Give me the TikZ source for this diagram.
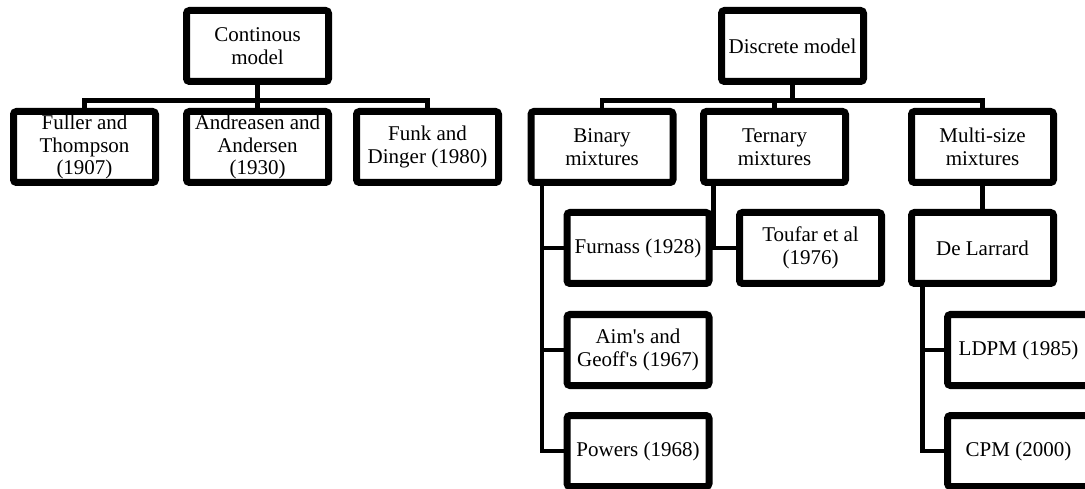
\documentclass[tikz,border=0pt]{standalone}
\usepackage{fontspec}
\setmainfont{Liberation Serif}[Ligatures=TeXOff]
\usetikzlibrary{shadows}

\begin{document}
\begin{tikzpicture}[x=1pt,y=-1pt,
  box/.style={draw,fill=white,line width=7pt,rounded corners=3pt,
    minimum width=142pt,minimum height=71pt,inner sep=0pt,align=center,
    font=\fontsize{21}{22.5}\selectfont,
    drop shadow={shadow xshift=2pt,shadow yshift=-3pt,opacity=.35}},
  link/.style={line width=4.5pt}]
\clip (0,0) rectangle (1085,489);
% continuous model
\node[box] (cont) at (257.5,46) {Continous\\model};
\node[box] (fuller) at (84.5,147) {Fuller and\\Thompson\\(1907)};
\node[box] (andr) at (257.5,147) {Andreasen and\\Andersen\\(1930)};
\node[box] (funk) at (427.5,147) {Funk and\\Dinger (1980)};
\draw[link] (cont.south) -- ++(0,15.5) -| (fuller.north);
\draw[link] (cont.south) -- (andr.north);
\draw[link] (cont.south) -- ++(0,15.5) -| (funk.north);
% discrete model
\node[box] (disc) at (792.5,46) {Discrete model};
\node[box] (bin) at (602,147) {Binary\\mixtures};
\node[box] (tern) at (774.5,147) {Ternary\\mixtures};
\node[box] (multi) at (982.5,147) {Multi-size\\mixtures};
\draw[link] (disc.south) -- ++(0,15.5) -| (bin.north);
\draw[link] (disc.south) -- ++(0,15.5) -| (tern.north);
\draw[link] (disc.south) -- ++(0,15.5) -| (multi.north);
% binary
\node[box] (furn) at (638,248) {Furnass (1928)};
\node[box] (aim) at (638,350) {Aim's and\\Geoff's (1967)};
\node[box] (pow) at (638,451) {Powers (1968)};
\draw[link] ([xshift=14.5pt]bin.south west) |- (furn.west);
\draw[link] ([xshift=14.5pt]bin.south west) |- (aim.west);
\draw[link] ([xshift=14.5pt]bin.south west) |- (pow.west);
% ternary
\node[box] (touf) at (810.5,248) {Toufar et al\\(1976)};
\draw[link] ([xshift=13.5pt]tern.south west) |- (touf.west);
% multi-size
\node[box] (larr) at (982.5,248) {De Larrard};
\node[box] (ldpm) at (1018.5,350) {LDPM (1985)};
\node[box] (cpm) at (1018.5,451) {CPM (2000)};
\draw[link] (multi.south) -- (larr.north);
\draw[link] ([xshift=14.5pt]larr.south west) |- (ldpm.west);
\draw[link] ([xshift=14.5pt]larr.south west) |- (cpm.west);
\end{tikzpicture}
\end{document}
